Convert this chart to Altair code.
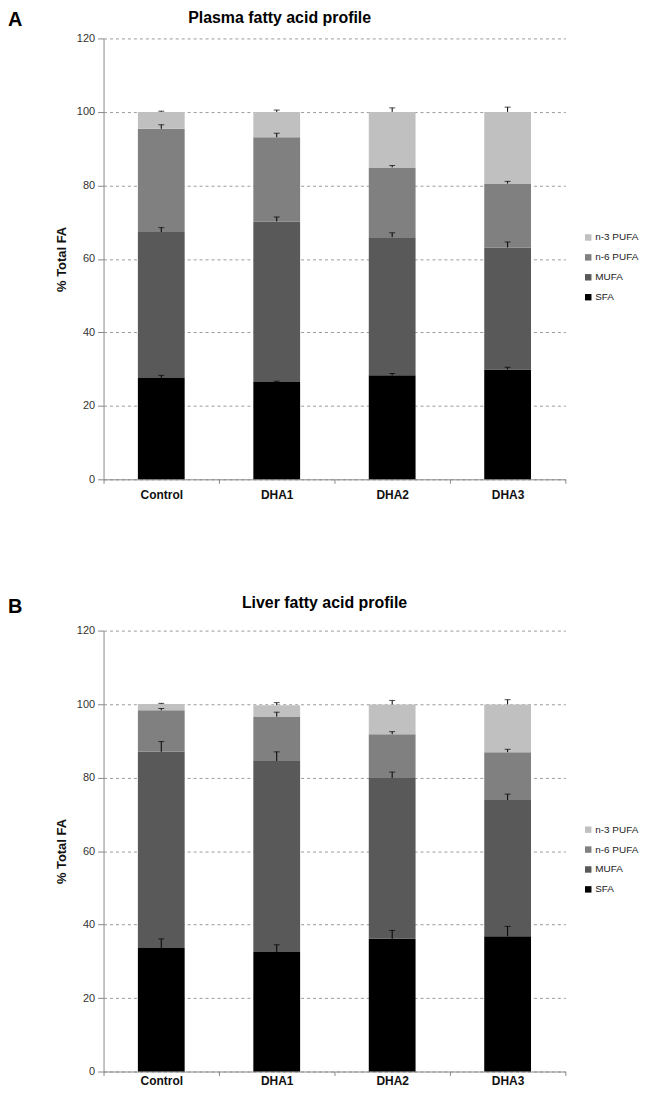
import altair as alt
import pandas as pd

groups = ["Control", "DHA1", "DHA2", "DHA3"]
fa_classes = ["SFA", "MUFA", "n-6 PUFA", "n-3 PUFA"]
legend_order = ["n-3 PUFA", "n-6 PUFA", "MUFA", "SFA"]
legend_colors = ["#c0c0c0", "#808080", "#595959", "#000000"]
y_ticks = [0, 20, 40, 60, 80, 100, 120]

# Plasma (panel A)
plasma_sfa = [27.6, 26.5, 28.3, 29.9]
plasma_mufa = [39.7, 43.7, 37.6, 33.2]
plasma_n6 = [28.1, 22.9, 19.0, 17.4]
plasma_n3 = [4.6, 6.9, 15.1, 19.5]
plasma_sfa_err = [0.7, 0.2, 0.5, 0.6]
plasma_mufa_err = [1.2, 1.2, 1.2, 1.5]
plasma_n6_err = [1.1, 1.1, 0.5, 0.6]
plasma_n3_err = [0.2, 0.5, 1.1, 1.3]

# Liver (panel B)
liver_sfa = [33.6, 32.5, 36.1, 36.8]
liver_mufa = [53.4, 52.0, 43.8, 37.1]
liver_n6 = [11.3, 12.1, 11.9, 13.0]
liver_n3 = [1.7, 3.1, 8.1, 13.0]
liver_sfa_err = [2.5, 2.0, 2.3, 2.7]
liver_mufa_err = [2.8, 2.5, 1.6, 1.6]
liver_n6_err = [0.5, 1.2, 0.7, 0.8]
liver_n3_err = [0.2, 0.7, 1.1, 1.3]

FONT = "Liberation Sans"


def build_df(vals, errs):
    rows = []
    for i, g in enumerate(groups):
        top = 0.0
        for k, c in enumerate(fa_classes):
            v = vals[k][i]
            top += v
            rows.append({"group": g, "cls": c, "ord": k, "value": v,
                         "top": top, "hi": top + errs[k][i]})
    return pd.DataFrame(rows)


def panel(df, letter, title, title_x, title_y, letter_y, label_pad):
    xenc = alt.X("group:N", sort=groups, title=None,
                 scale=alt.Scale(paddingInner=0, paddingOuter=0),
                 axis=alt.Axis(labelAngle=0, tickBand="extent", tickSize=4,
                               labelPadding=label_pad, labelFont=FONT,
                               labelFontSize=12, labelFontWeight="bold",
                               labelColor="#111111", domainColor="#888888",
                               tickColor="#888888", grid=False))
    yscale = alt.Scale(domain=[0, 120], nice=False)
    yaxis = alt.Axis(values=y_ticks, tickSize=6, tickColor="#888888",
                     domainColor="#888888", labelFont=FONT, labelFontSize=11,
                     labelColor="#333333", labelPadding=3,
                     titleFont=FONT, titleFontSize=13, titleFontWeight="bold",
                     titleColor="#111111", titlePadding=8,
                     grid=True, gridDash=[3, 3], gridColor="#9a9a9a",
                     gridWidth=1)
    base = alt.Chart(df)
    bars = base.mark_bar(size=47).encode(
        x=xenc,
        y=alt.Y("value:Q", stack="zero", scale=yscale, axis=yaxis,
                title="% Total FA"),
        color=alt.Color("cls:N",
                        scale=alt.Scale(domain=legend_order, range=legend_colors),
                        legend=alt.Legend(orient="none", legendX=482, legendY=195,
                                          title=None, symbolType="square",
                                          symbolSize=42, symbolStrokeWidth=0,
                                          labelFont=FONT, labelFontSize=10,
                                          labelColor="#222222", rowPadding=10,
                                          labelOffset=2, padding=0)),
        order=alt.Order("ord:Q"),
    )
    rules = base.mark_rule(color="#000000", strokeWidth=1).encode(
        x=alt.X("group:N", sort=groups),
        y=alt.Y("top:Q", scale=yscale, title="% Total FA"),
        y2="hi:Q",
    )
    caps = base.mark_tick(color="#000000", thickness=1, size=6,
                          orient="horizontal").encode(
        x=alt.X("group:N", sort=groups),
        y=alt.Y("hi:Q", scale=yscale, title="% Total FA"),
    )
    letter_txt = alt.Chart(pd.DataFrame({"t": [letter]})).mark_text(
        font=FONT, fontSize=20, fontWeight="bold", align="left",
        baseline="top", color="#000000"
    ).encode(x=alt.value(-96), y=alt.value(letter_y), text="t:N")
    title_txt = alt.Chart(pd.DataFrame({"t": [title]})).mark_text(
        font=FONT, fontSize=16, fontWeight="bold", align="left",
        baseline="top", color="#000000"
    ).encode(x=alt.value(title_x), y=alt.value(title_y), text="t:N")
    return alt.layer(bars, rules, caps, letter_txt, title_txt).properties(
        width=464, height=443)


plasma_df = build_df([plasma_sfa, plasma_mufa, plasma_n6, plasma_n3],
                     [plasma_sfa_err, plasma_mufa_err, plasma_n6_err, plasma_n3_err])
liver_df = build_df([liver_sfa, liver_mufa, liver_n6, liver_n3],
                    [liver_sfa_err, liver_mufa_err, liver_n6_err, liver_n3_err])

top = panel(plasma_df, "A", "Plasma fatty acid profile", 85, -28, -28, 6)
bottom = panel(liver_df, "B", "Liver fatty acid profile", 139, -36, -34, 0)

chart = alt.vconcat(top, bottom, spacing=95).resolve_legend(
    color="independent"
).resolve_scale(color="independent").properties(
    padding={"left": 0, "top": 0, "right": 0, "bottom": 0}
).configure_view(stroke=None)

chart.save("out.html", embed_options={"renderer": "svg", "actions": False})
